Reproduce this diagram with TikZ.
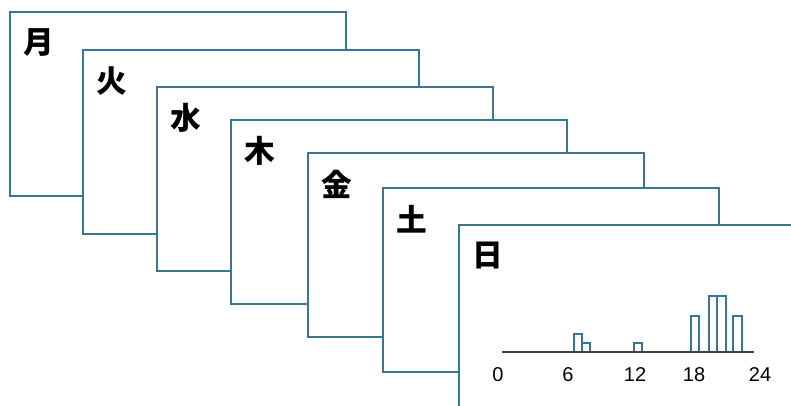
\documentclass[tikz,border=0pt]{standalone}
\usepackage{fontspec}
\setmainfont{Liberation Sans}
\newfontfamily\cjk{Noto Sans CJK JP}
\usepackage{tikz}
\usetikzlibrary{positioning}
\definecolor{cardline}{HTML}{3A7595}
\definecolor{axisink}{HTML}{404040}
\tikzset{
  card/.style={
    draw=cardline, line width=1.4pt, fill=white, anchor=north west,
    minimum width=252pt, minimum height=138pt, inner sep=0pt, outer sep=0pt
  },
  daylabel/.style={font=\cjk\bfseries\fontsize{23}{23}\selectfont, inner sep=0pt},
  bar/.style={draw=cardline, line width=1pt, fill=white},
  axisline/.style={draw=axisink, line width=1pt},
  ticklabel/.style={font=\fontsize{15}{15}\selectfont, inner sep=0pt}
}

\begin{document}
\begin{tikzpicture}[x=0.75pt,y=-0.75pt]
  \useasboundingbox (0,0) rectangle (791,406);
  \clip (0,0) rectangle (791,406);

  % ---- Cards, one per weekday ----
  \foreach \lab/\cx/\cy [count=\i] in {月/10/12, 火/83/50, 水/157/87, 木/231/120,
                                      金/308/153, 土/383/188, 日/459/225} {
    \node[card] (card\i) at (\cx,\cy) {};
    \node[daylabel] (day\i) at ([shift={(29,31)}]card\i.north west) {\lab};
  }

  % ---- Histogram on the last card ----
  \coordinate (t0)  at (502,352);
  \coordinate (t24) at (754,352);
  \foreach \l/\r/\t in {574/582/334, 582/590/343, 634/642/343, 691/699/316,
                        709/717/296, 717/726/296, 733/742/316}
    \draw[bar] (\l,352) rectangle (\r,\t);
  \draw[axisline] (t0) -- (t24);

  \foreach \h/\hx in {0/498, 6/568, 12/635, 18/694, 24/760}
    \node[ticklabel] (hour\h) at (\hx,375) {\h};
\end{tikzpicture}
\end{document}
